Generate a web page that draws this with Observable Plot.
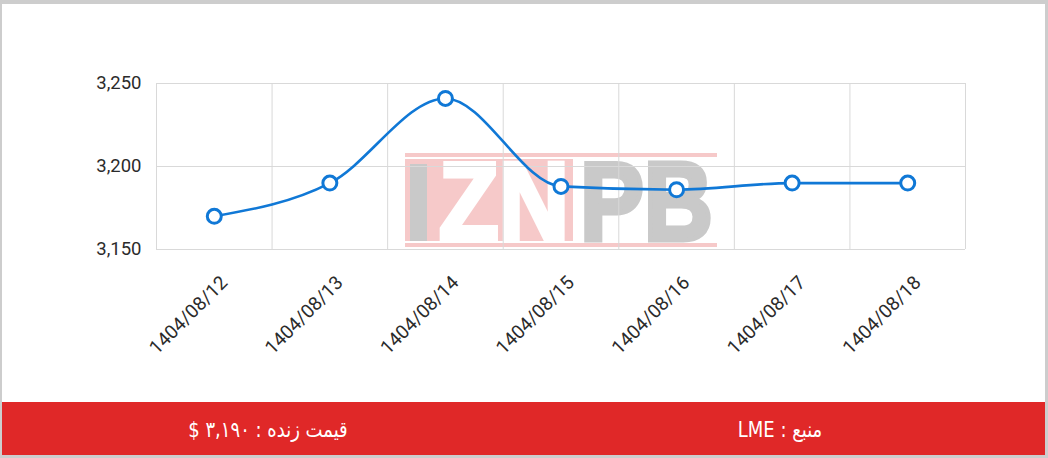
<!DOCTYPE html>
<html>
<head>
<meta charset="utf-8">
<script src="https://cdn.jsdelivr.net/npm/d3@7"></script>
<script src="https://cdn.jsdelivr.net/npm/@observablehq/plot@0.6"></script>
<style>
  html, body { margin: 0; padding: 0; background: #fff; }
  #wrap { position: relative; width: 1048px; height: 458px; background: #cdcdcd; overflow: hidden; }
  #inner { position: absolute; left: 2px; top: 4px; width: 1043px; height: 451px; background: #fff; }
  #wm { position: absolute; left: 0; top: 0; }
  #chart { position: absolute; left: 0; top: 0; }
  #band { position: absolute; left: 2px; top: 402px; width: 1043px; height: 53px; background: #e02828; color: #fff;
          font-family: "DejaVu Sans Condensed", "DejaVu Sans", sans-serif; font-size: 20px; }
  #band span { position: absolute; top: 50%; transform: translate(-50%, -50%) scaleY(1.1); white-space: nowrap; direction: rtl; }
</style>
</head>
<body>
<div id="wrap">
  <div id="inner"></div>
  <svg id="wm" width="1048" height="400">
    <rect x="405" y="153" width="312" height="4" fill="#f6c9c9"></rect>
    <rect x="405" y="243" width="312" height="4" fill="#f6c9c9"></rect>
    <rect x="405" y="159" width="168" height="82" fill="#f6c9c9"></rect>
    <rect x="410" y="164" width="17" height="77" fill="#c9c9c9"></rect>
    <g font-family="Liberation Sans" font-weight="bold" font-size="112" stroke-width="5" stroke-linejoin="miter">
      <text x="439" y="240" fill="#ffffff" stroke="#ffffff" textLength="130" lengthAdjust="spacingAndGlyphs">ZN</text>
      <text x="580" y="240" fill="#c9c9c9" stroke="#c9c9c9" textLength="133" lengthAdjust="spacingAndGlyphs">PB</text>
    </g>
  </svg>
  <div id="chart"></div>
  <div id="band"><span id="live" style="left:266px"></span><span id="src" style="left:778px"></span></div>
</div>
<script>
// ---- data ----
const dates = ["1404/08/12", "1404/08/13", "1404/08/14", "1404/08/15", "1404/08/16", "1404/08/17", "1404/08/18"];
const prices = [3170, 3190, 3241, 3188, 3186, 3190, 3190];
const yTicks = [3150, 3200, 3250];
const liveLabel = "قیمت زنده : ۳,۱۹۰ $";
const sourceLabel = "منبع : LME";

// ---- build ----
const data = dates.map((d, i) => ({i, date: d, v: prices[i]}));
const edges = d3.range(dates.length + 1).map(i => i - 0.5);
const blue = "#1078d6";

const chart = Plot.plot({
  width: 1048,
  height: 400,
  marginLeft: 156,
  marginRight: 83,
  marginTop: 83,
  marginBottom: 151,
  style: {background: "transparent", fontFamily: "Roboto", color: "#333"},
  x: {type: "linear", domain: [-0.5, dates.length - 0.5]},
  y: {domain: [yTicks[0], yTicks[yTicks.length - 1]]},
  marks: [
    Plot.ruleY(yTicks, {stroke: "#d9d9d9", strokeWidth: 1}),
    Plot.ruleX(edges, {stroke: "#d9d9d9", strokeWidth: 1}),
    Plot.axisY({ticks: yTicks, tickSize: 0, tickPadding: 15, tickFormat: d3.format(","), fontSize: 18.5, label: null, fill: "#2b2b2b"}),
    Plot.axisX({ticks: d3.range(dates.length), tickFormat: i => dates[i], tickRotate: -45, tickSize: 0, tickPadding: 30, dx: 10, fontSize: 19, label: null, fill: "#2b2b2b"}),
    Plot.line(data, {x: "i", y: "v", curve: "monotone-x", stroke: blue, strokeWidth: 2.6}),
    Plot.dot(data, {x: "i", y: "v", r: 7, fill: "white", stroke: blue, strokeWidth: 3})
  ]
});
document.getElementById("chart").appendChild(chart);
document.getElementById("live").textContent = liveLabel;
document.getElementById("src").textContent = sourceLabel;
</script>
</body>
</html>
